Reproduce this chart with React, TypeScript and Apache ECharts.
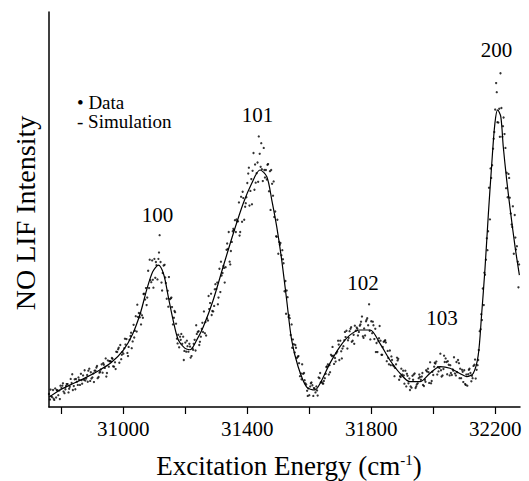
import { useEffect, useRef } from 'react';
import * as echarts from 'echarts';

const FONT = '"Liberation Serif", "Times New Roman", Times, serif';

// Axis ticks and labels (cm^-1)
const tickValues = [30800, 31000, 31200, 31400, 31600, 31800, 32000, 32200];
const labelValues = [31000, 31400, 31800, 32200];

// Simulation curve (energy in cm^-1, intensity in arbitrary units)
const simEnergy = [30760, 30800, 30840, 30880, 30920, 30960, 31000, 31030, 31055, 31075, 31095, 31113, 31130, 31145, 31160, 31177, 31198, 31215, 31237, 31258, 31290, 31322, 31355, 31387, 31414, 31441, 31463, 31479, 31495, 31511, 31527, 31543, 31564, 31591, 31618, 31635, 31667, 31699, 31731, 31764, 31796, 31828, 31860, 31893, 31925, 31957, 31989, 32022, 32054, 32086, 32108, 32129, 32145, 32156, 32167, 32178, 32189, 32199, 32208, 32218, 32226, 32237, 32250, 32264, 32278];
const simIntensity = [2.5, 4.5, 6.0, 7.5, 9.2, 11.2, 14.4, 18.5, 23.8, 29.6, 34.3, 35.9, 33.6, 27.9, 22.2, 17.0, 14.9, 14.5, 17.0, 20.3, 27.1, 35.5, 44.0, 51.6, 56.6, 60.0, 58.3, 52.4, 45.6, 37.2, 27.1, 17.0, 10.2, 5.1, 4.3, 6.0, 11.1, 15.3, 18.2, 19.5, 19.5, 16.1, 11.9, 8.5, 6.4, 6.4, 8.5, 10.2, 9.8, 8.5, 7.7, 8.5, 13.0, 23.3, 35.0, 49.0, 61.7, 71.8, 75.2, 73.5, 65.9, 57.5, 49.0, 40.6, 33.4];

// Measured data: four scans sampled every 10 cm^-1
const scanStep = 10;
const scanAStart = 30760;
const scanBStart = 30763;
const scanCStart = 30767;
const scanDStart = 30765;
const scanA = [
  3.3, 2.5, 4.7, 3.0, 4.8, 3.5, 5.8, 7.1, 5.3, 6.4, 5.6, 8.0, 7.2, 9.7, 7.5, 9.2, 7.6, 10.8, 9.9, 11.8,
  11.5, 10.2, 13.9, 15.7, 13.5, 17.2, 17.0, 16.6, 23.0, 23.8, 23.2, 27.2, 34.5, 31.6, 37.5, 32.3, 36.7, 35.8, 27.4, 27.3,
  20.9, 21.1, 15.1, 16.0, 16.3, 14.0, 12.9, 17.0, 19.0, 17.8, 24.2, 22.4, 26.3, 24.2, 29.9, 35.0, 33.9, 35.4, 44.3, 41.8,
  47.3, 47.0, 53.2, 47.4, 56.7, 54.7, 64.3, 59.2, 64.1, 57.2, 60.0, 54.6, 56.5, 49.5, 38.8, 38.4, 29.3, 27.8, 18.2, 15.9,
  12.4, 7.8, 8.4, 5.7, 3.0, 5.5, 3.7, 7.5, 6.3, 7.3, 10.8, 13.2, 10.9, 14.0, 16.8, 15.4, 19.3, 19.2, 16.8, 19.3,
  19.0, 22.9, 18.1, 20.7, 21.7, 17.2, 13.9, 16.8, 16.5, 11.6, 14.3, 10.6, 10.8, 6.9, 8.2, 9.2, 6.0, 4.9, 8.5, 6.0,
  6.9, 5.3, 9.0, 11.3, 8.1, 11.5, 9.9, 8.0, 12.3, 10.7, 8.1, 8.5, 11.9, 7.3, 9.3, 5.4, 8.6, 10.4, 9.4, 19.2,
  30.0, 37.3, 55.5, 61.2, 75.3, 72.0, 75.7, 69.1, 53.1, 49.0, 38.8, 40.7,
];
const scanB = [
  1.9, 4.3, 2.4, 4.2, 5.4, 4.5, 3.7, 6.1, 7.0, 5.6, 8.4, 6.9, 8.1, 6.6, 8.5, 10.0, 8.7, 8.7, 12.3, 10.2,
  12.4, 11.3, 14.6, 12.1, 14.9, 13.7, 18.0, 20.8, 19.1, 22.7, 22.6, 30.1, 30.1, 37.1, 32.7, 37.5, 31.5, 36.0, 29.4, 27.5,
  22.6, 17.3, 17.8, 17.8, 14.0, 16.0, 14.9, 14.3, 19.2, 19.8, 18.7, 21.9, 28.7, 25.6, 31.5, 29.1, 35.7, 39.8, 36.8, 44.5,
  44.3, 51.8, 46.9, 50.7, 59.1, 57.7, 55.0, 61.9, 60.8, 65.6, 57.6, 59.7, 53.5, 43.2, 41.8, 39.7, 31.9, 22.8, 20.9, 13.8,
  12.7, 8.5, 8.6, 4.1, 5.2, 2.8, 5.2, 7.3, 6.0, 8.4, 8.2, 12.9, 12.4, 16.8, 14.1, 16.9, 14.8, 19.8, 18.3, 20.1,
  20.6, 17.9, 21.7, 26.0, 18.7, 19.8, 16.7, 13.2, 16.7, 14.2, 10.6, 10.3, 12.5, 7.8, 9.2, 5.2, 7.2, 7.9, 4.8, 7.3,
  7.7, 6.9, 9.7, 6.0, 10.2, 8.2, 13.5, 9.6, 11.4, 8.0, 9.5, 8.0, 11.1, 9.4, 5.8, 8.3, 6.5, 10.7, 10.6, 19.7,
  25.8, 42.7, 47.5, 65.4, 82.0, 75.5, 68.4, 65.6, 59.0, 46.2, 48.6, 36.8,
];
const scanC = [
  2.7, 1.8, 4.2, 5.4, 3.9, 5.8, 5.1, 4.3, 7.1, 6.9, 5.9, 6.7, 9.2, 7.2, 9.2, 7.3, 9.5, 10.7, 8.6, 11.6,
  10.3, 14.0, 11.2, 13.9, 15.8, 15.2, 14.9, 19.3, 22.8, 20.9, 28.7, 27.7, 32.1, 30.2, 35.9, 43.5, 33.9, 31.4, 32.9, 25.3,
  24.0, 18.3, 18.5, 14.2, 15.4, 12.5, 16.0, 18.5, 16.5, 19.0, 18.1, 24.8, 24.3, 31.1, 27.7, 33.3, 31.5, 40.0, 39.5, 44.8,
  47.0, 44.3, 52.9, 53.1, 51.0, 59.8, 56.8, 68.5, 60.2, 58.1, 61.5, 60.0, 48.1, 47.4, 41.5, 36.4, 29.5, 22.5, 17.1, 15.0,
  11.1, 10.8, 6.0, 4.7, 6.2, 4.6, 2.9, 6.2, 6.6, 10.3, 8.8, 13.0, 13.6, 11.9, 14.8, 17.7, 17.5, 16.5, 20.6, 18.1,
  21.6, 19.9, 22.5, 17.1, 20.7, 16.2, 20.5, 15.2, 16.3, 10.8, 11.9, 9.9, 12.2, 9.7, 5.9, 7.9, 5.2, 8.2, 5.7, 7.6,
  5.6, 9.3, 6.1, 8.9, 11.0, 9.0, 7.7, 11.4, 11.6, 8.6, 12.6, 8.8, 9.7, 6.3, 8.2, 9.7, 7.3, 7.2, 14.4, 22.0,
  33.5, 44.5, 58.0, 69.6, 72.1, 84.5, 73.3, 59.3, 53.0, 50.8, 39.9, 36.1,
];
const scanD = [
  4.4, 2.1, 4.3, 2.0, 6.0, 5.3, 4.6, 8.3, 4.5, 7.5, 6.8, 9.3, 6.4, 8.8, 6.3, 10.4, 8.9, 11.1, 7.7, 11.6,
  12.2, 9.6, 15.0, 13.2, 17.3, 12.9, 18.8, 17.6, 25.9, 23.7, 28.6, 25.8, 37.3, 32.2, 36.7, 39.1, 29.5, 32.8, 25.4, 27.7,
  24.3, 16.1, 17.0, 11.9, 16.8, 15.3, 14.5, 20.7, 15.7, 21.3, 21.5, 28.1, 23.3, 29.8, 26.0, 36.8, 35.2, 41.4, 36.1, 45.1,
  47.5, 43.4, 54.5, 51.6, 60.6, 51.3, 61.4, 57.0, 66.8, 60.0, 61.3, 49.9, 57.1, 43.1, 41.1, 37.4, 23.6, 23.2, 15.0, 15.7,
  12.9, 7.0, 6.8, 2.8, 6.0, 4.8, 4.2, 8.6, 5.9, 10.1, 10.6, 15.2, 11.5, 15.8, 12.3, 19.0, 16.9, 20.2, 16.0, 19.8,
  20.9, 17.5, 22.1, 19.3, 21.6, 13.9, 17.4, 13.2, 16.9, 12.4, 12.8, 7.8, 11.8, 7.6, 8.0, 8.4, 4.3, 6.9, 5.2, 8.2,
  8.6, 6.4, 8.8, 6.6, 11.2, 10.1, 9.3, 13.0, 8.3, 10.6, 9.2, 11.4, 7.3, 8.9, 5.6, 9.4, 7.9, 12.0, 11.9, 23.5,
  34.0, 39.7, 60.4, 67.9, 79.7, 68.4, 71.1, 55.4, 58.0, 45.6, 42.9, 30.3,
];

// Band assignments
const peakNames = ['100', '101', '102', '103', '200'];
const peakEnergy = [31110, 31433, 31773, 32028, 32204];
const peakLabelY = [48.6, 73.9, 31.5, 22.5, 90.4];

function scanPoints(start: number, values: number[]) {
  return values.map((v, i) => [start + i * scanStep, v]);
}

export default function App() {
  const ref = useRef<HTMLDivElement>(null);

  useEffect(() => {
    const chart = echarts.init(ref.current!, null, { renderer: 'svg' });
    const scatterBase = {
      type: 'scatter' as const,
      symbol: 'circle',
      symbolSize: 2.3,
      itemStyle: { color: '#000' },
      silent: true,
      z: 2,
    };
    chart.setOption({
      animation: false,
      backgroundColor: '#fff',
      grid: { left: 49, right: 9, top: 12, bottom: 74, outerBoundsMode: 'none' },
      xAxis: {
        type: 'value',
        min: 30760,
        max: 32280,
        splitLine: { show: false },
        axisLine: { show: true, onZero: false, lineStyle: { color: '#000', width: 1.5 } },
        axisTick: {
          show: true,
          inside: false,
          length: 7,
          customValues: tickValues,
          lineStyle: { color: '#000', width: 1.2 },
        },
        axisLabel: {
          show: true,
          customValues: labelValues,
          color: '#000',
          fontFamily: FONT,
          fontSize: 21,
          margin: 11,
          formatter: (v: number) => String(v),
        },
      },
      yAxis: {
        type: 'value',
        min: 0,
        max: 100,
        splitLine: { show: false },
        axisLine: { show: true, onZero: false, lineStyle: { color: '#000', width: 1.5 } },
        axisTick: { show: false },
        axisLabel: { show: false },
      },
      series: [
        { ...scatterBase, name: 'Data A', data: scanPoints(scanAStart, scanA) },
        { ...scatterBase, name: 'Data B', data: scanPoints(scanBStart, scanB) },
        { ...scatterBase, name: 'Data C', data: scanPoints(scanCStart, scanC) },
        { ...scatterBase, name: 'Data D', data: scanPoints(scanDStart, scanD) },
        {
          type: 'line',
          name: 'Simulation',
          data: simEnergy.map((e, i) => [e, simIntensity[i]]),
          showSymbol: false,
          smooth: 0.3,
          lineStyle: { color: '#000', width: 1.2 },
          silent: true,
          z: 3,
        },
        {
          type: 'scatter',
          name: 'Bands',
          symbolSize: 0,
          itemStyle: { color: '#000' },
          silent: true,
          z: 4,
          label: {
            show: true,
            position: 'inside',
            formatter: '{b}',
            color: '#000',
            opacity: 1,
            textBorderWidth: 0,
            fontFamily: FONT,
            fontSize: 21,
          },
          data: peakEnergy.map((e, i) => ({ name: peakNames[i], value: [e, peakLabelY[i]] })),
        },
      ],
      graphic: [
        {
          type: 'text',
          x: 77,
          y: 112,
          style: {
            text: '• Data\n- Simulation',
            fill: '#000',
            fontFamily: FONT,
            fontSize: 19,
            lineHeight: 19,
            align: 'left',
            verticalAlign: 'middle',
          },
        },
        {
          type: 'text',
          x: 289,
          y: 466,
          style: {
            text: '{a|Excitation Energy (cm}{s|-1}{a|)}',
            align: 'center',
            verticalAlign: 'middle',
            rich: {
              a: { fontFamily: FONT, fontSize: 27, fill: '#000' },
              s: { fontFamily: FONT, fontSize: 15, fill: '#000', verticalAlign: 'top' },
            },
          },
        },
        {
          type: 'text',
          x: 25,
          y: 213,
          rotation: Math.PI / 2,
          style: { text: 'NO LIF Intensity', fill: '#000', fontFamily: FONT, fontSize: 28, align: 'center', verticalAlign: 'middle' },
        },
      ],
    });
    return () => chart.dispose();
  }, []);

  return (
    <div
      ref={ref}
      style={{ position: 'absolute', left: 0, top: 0, width: 529, height: 481, background: '#fff' }}
    />
  );
}
